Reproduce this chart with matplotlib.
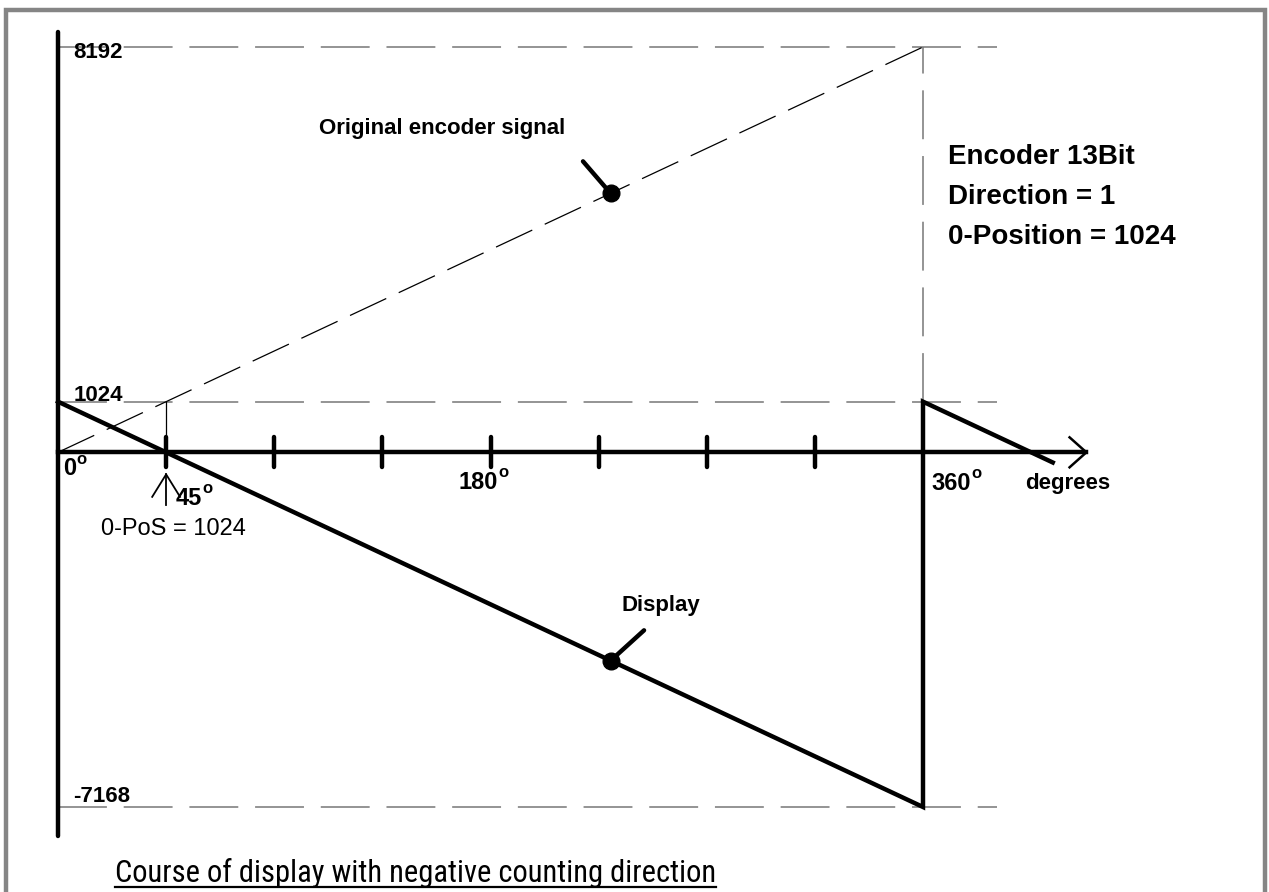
import matplotlib
matplotlib.use('Agg')
import matplotlib.pyplot as plt
from matplotlib import font_manager
from matplotlib.patches import Rectangle
from matplotlib.lines import Line2D

plt.rcParams['font.family'] = ['Liberation Sans', 'DejaVu Sans']

# values (x in degrees, y in encoder counts)
signal_deg = [0, 360]
signal_val = [0, 8192]
display_deg = [0, 360, 360, 414]
display_val = [1024, -7168, 1024, -205]
levels = [8192, 1024, -7168]
level_labels = ['8192', '1024', '-7168']
tick_deg = [45, 90, 135, 180, 225, 270, 315]
dot_deg = 230
dot_signal = 5234
dot_display = -4210
info_lines = ['Encoder 13Bit', 'Direction = 1', '0-Position = 1024']
title = 'Course of display with negative counting direction'


def narrow_font():
    # look for a condensed face for the title
    names = {}
    for f in font_manager.fontManager.ttflist:
        names.setdefault(f.name, []).append(f)
    for want in ['Liberation Sans Narrow', 'Roboto Condensed',
                 'Open Sans Condensed', 'Noto Sans Condensed']:
        if want in names:
            return dict(family=want)
    for f in font_manager.fontManager.ttflist:
        if 'ondensed' in f.fname and 'Bold' not in f.fname \
                and 'Oblique' not in f.fname and 'Italic' not in f.fname:
            return dict(fname=f.fname)
    return dict(family='DejaVu Sans')


def degree_label(x, y, num, ha='left'):
    t0 = ax.text(x, y, num, fontsize=17, fontweight='bold', va='center', ha=ha)
    ax.annotate('o', xy=(1, 1), xycoords=t0, xytext=(0.5, 4),
                textcoords='offset points', fontsize=12, fontweight='bold',
                va='top', ha='left')


fig = plt.figure(figsize=(12.69, 8.92), dpi=100)
ax = fig.add_axes([0, 0, 1, 1])
ax.set_xlim(-24.14, 504.0)
ax.set_ylim(-8886, 9142)
ax.axis('off')

# grey frame
fig.add_artist(Rectangle((6 / 1269, -0.05), 1259 / 1269, 1.05 - 10 / 892,
                         transform=fig.transFigure, fill=False,
                         edgecolor='#858585', linewidth=3.2))

# dashed reference levels
dash = dict(color='#777777', lw=1.1, dashes=(32, 11))
for lv in levels:
    ax.plot([0, 391], [lv, lv], **dash)
ax.plot([360, 360], [1024, 8192], **dash)

# original encoder signal (thin dashed)
ax.plot(signal_deg, signal_val, color='black', lw=0.9, dashes=(32, 11))
ax.plot([45, 45], [0, 1024], color='black', lw=0.9)

# axes
ax.plot([0, 0], [-7761, 8488], color='black', lw=3.2, solid_capstyle='round')
ax.plot([0, 428], [0, 0], color='black', lw=3.2)
ax.plot([421, 428, 421], [303, 0, -303], color='black', lw=1.8)
for t in tick_deg:
    ax.plot([t, t], [300, -300], color='black', lw=3.2, solid_capstyle='round')

# display course
ax.plot(display_deg, display_val, color='black', lw=3.2,
        solid_joinstyle='miter')

# pointer dots
ax.plot([218.5, dot_deg], [5881, dot_signal], color='black', lw=3.2,
        solid_capstyle='round')
ax.plot(dot_deg, dot_signal, 'o', color='black', ms=12)
ax.plot([243.9, dot_deg], [-3597, dot_display], color='black', lw=3.2,
        solid_capstyle='round')
ax.plot(dot_deg, dot_display, 'o', color='black', ms=12)

# arrow to 0-position
ax.plot([45, 45], [-1071, -445], color='black', lw=1.3)
ax.plot([39.2, 45, 50.8], [-900, -445, -900], color='black', lw=1.3)

# labels
lab = dict(fontsize=16, fontweight='bold', va='center')
for lv, txt, dy in zip(levels, level_labels, [-108, 128, 216]):
    ax.text(6.5, lv + dy, txt, **lab)
degree_label(2, -330, '0')
degree_label(49, -930, '45')
degree_label(175, -600, '180', ha='center')
degree_label(363.5, -630, '360')
ax.text(402.5, -640, 'degrees', **lab)
ax.text(18, -1540, '0-PoS = 1024', fontsize=17, va='center')
ax.text(211, 6548, 'Original encoder signal', ha='right', **lab)
ax.text(234.7, -3092, 'Display', **lab)
for i, line in enumerate(info_lines):
    ax.text(370.4, 5962 - i * 800, line, fontsize=20, fontweight='bold',
            va='center')

# underlined title
t = fig.text(115 / 1269, 10 / 892, title, fontsize=22,
             va='baseline', ha='left', **narrow_font())
fig.canvas.draw()
bb = t.get_window_extent()
fig.add_artist(Line2D([bb.x0 / 1269, bb.x1 / 1269], [5.5 / 892, 5.5 / 892],
                      transform=fig.transFigure, color='black', lw=1.6))

fig.savefig('out.png', dpi=100)
